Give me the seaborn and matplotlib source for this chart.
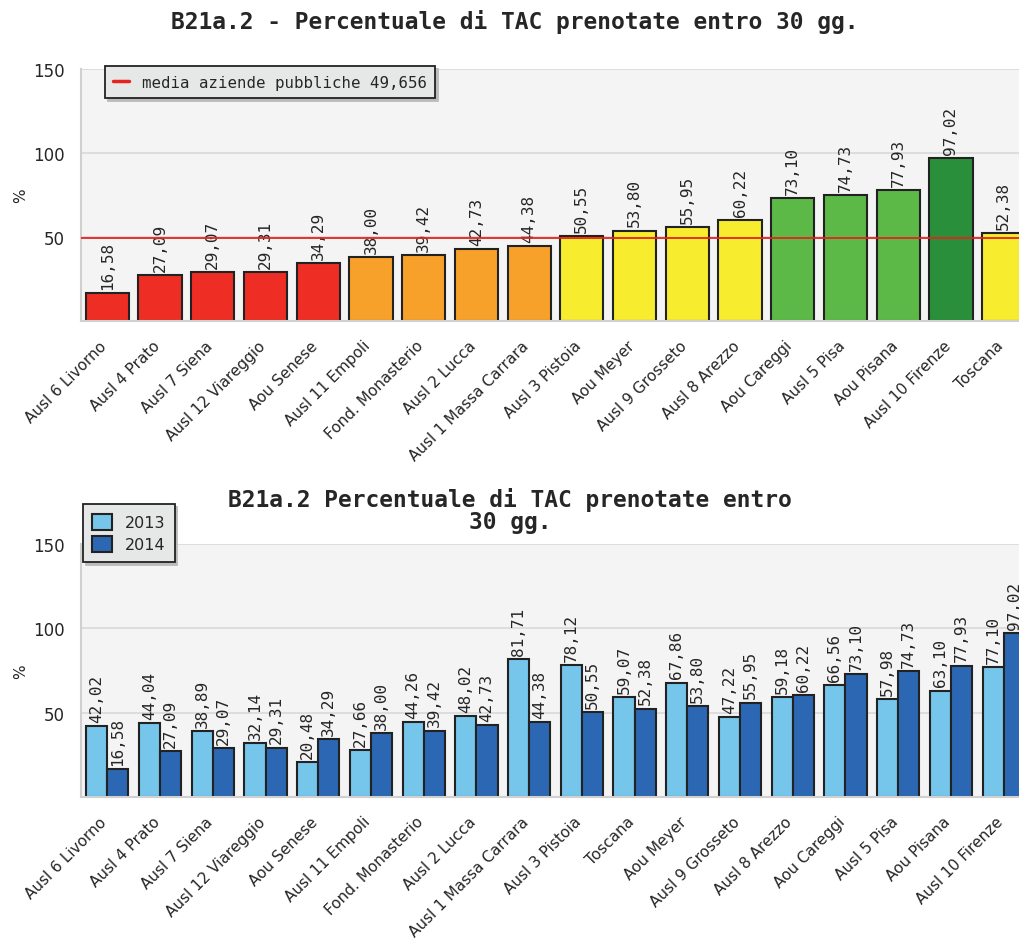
import matplotlib
matplotlib.use("Agg")
import matplotlib.pyplot as plt
import matplotlib.transforms as mtrans
import seaborn as sns
import pandas as pd
from matplotlib.lines import Line2D

# --- data ---
top_labels = ["Ausl 6 Livorno", "Ausl 4 Prato", "Ausl 7 Siena", "Ausl 12 Viareggio",
              "Aou Senese", "Ausl 11 Empoli", "Fond. Monasterio", "Ausl 2 Lucca",
              "Ausl 1 Massa Carrara", "Ausl 3 Pistoia", "Aou Meyer", "Ausl 9 Grosseto",
              "Ausl 8 Arezzo", "Aou Careggi", "Ausl 5 Pisa", "Aou Pisana",
              "Ausl 10 Firenze", "Toscana"]
top_values = [16.58, 27.09, 29.07, 29.31, 34.29, 38.00, 39.42, 42.73, 44.38,
              50.55, 53.80, 55.95, 60.22, 73.10, 74.73, 77.93, 97.02, 52.38]
top_band = ["red", "red", "red", "red", "red", "orange", "orange", "orange", "orange",
            "yellow", "yellow", "yellow", "yellow", "green", "green", "green",
            "darkgreen", "yellow"]
media_pubbliche = 49.656

bot_labels = ["Ausl 6 Livorno", "Ausl 4 Prato", "Ausl 7 Siena", "Ausl 12 Viareggio",
              "Aou Senese", "Ausl 11 Empoli", "Fond. Monasterio", "Ausl 2 Lucca",
              "Ausl 1 Massa Carrara", "Ausl 3 Pistoia", "Toscana", "Aou Meyer",
              "Ausl 9 Grosseto", "Ausl 8 Arezzo", "Aou Careggi", "Ausl 5 Pisa",
              "Aou Pisana", "Ausl 10 Firenze"]
vals_2013 = [42.02, 44.04, 38.89, 32.14, 20.48, 27.66, 44.26, 48.02, 81.71,
             78.12, 59.07, 67.86, 47.22, 59.18, 66.56, 57.98, 63.10, 77.10]
vals_2014 = [16.58, 27.09, 29.07, 29.31, 34.29, 38.00, 39.42, 42.73, 44.38,
             50.55, 52.38, 53.80, 55.95, 60.22, 73.10, 74.73, 77.93, 97.02]
years = ["2013", "2014"]

band_colors = {"red": "#ee2e24", "orange": "#f8a12a", "yellow": "#f7ec2d",
               "green": "#5cb947", "darkgreen": "#2a8f3b"}
year_colors = {"2013": "#76c6ec", "2014": "#2b67b2"}

sns.set_style("white")
mono = "DejaVu Sans Mono"


def fmt(v):
    return f"{v:.2f}".replace(".", ",")


def style_axes(ax, n):
    ax.set_facecolor("#f4f4f4")
    ax.set_ylim(0, 150)
    ax.set_xlim(-0.5, n - 0.5)
    ax.set_yticks([50, 100, 150])
    ax.yaxis.grid(True, color="#d9d9d9", linewidth=1.2)
    ax.set_axisbelow(True)
    for s in ["top", "right"]:
        ax.spines[s].set_visible(False)
    for s in ["left", "bottom"]:
        ax.spines[s].set_color("#d0d0d0")
        ax.spines[s].set_linewidth(1.5)
    ax.tick_params(axis="y", length=0, labelsize=12, pad=12)
    ax.tick_params(axis="x", which="major", length=0, pad=12)
    ax.set_xticks([i + 0.5 for i in range(n)], minor=True)
    ax.tick_params(axis="x", which="minor", direction="in", length=4,
                   width=1.2, color="#333333")
    ax.set_xlabel("")
    ax.set_ylabel("%", fontsize=11)
    ax.yaxis.set_label_coords(-0.056, 0.5)
    shift = mtrans.ScaledTranslation(-0.08, 0, fig.dpi_scale_trans)
    for lbl in ax.get_xticklabels():
        lbl.set_rotation(45)
        lbl.set_ha("right")
        lbl.set_rotation_mode("anchor")
        lbl.set_fontsize(11)
        lbl.set_transform(lbl.get_transform() + shift)


fig = plt.figure(figsize=(10.19, 9.45), dpi=100)

# --- top chart ---
ax1 = fig.add_axes([81 / 1019, 1 - 322 / 945, 949 / 1019, 252 / 945])
top_df = pd.DataFrame({"azienda": top_labels, "valore": top_values, "band": top_band})
sns.barplot(data=top_df, x="azienda", y="valore", hue="band", palette=band_colors,
            dodge=False, legend=False, width=0.82, edgecolor="#222222",
            linewidth=1.5, saturation=1, ax=ax1)
for cont in ax1.containers:
    ax1.bar_label(cont, labels=[fmt(b.get_height()) for b in cont], rotation=90,
                  padding=3, fontsize=11.5, family=mono)
ax1.axhline(media_pubbliche, color="#e5231f", linewidth=1.3, zorder=3)
style_axes(ax1, len(top_labels))
leg1 = ax1.legend(handles=[Line2D([0], [0], color="#e5231f", linewidth=2.5)],
                  labels=[f"media aziende pubbliche {media_pubbliche:.3f}".replace(".", ",")],
                  loc="upper left", bbox_to_anchor=(0.025, 1.012), borderaxespad=0,
                  frameon=True, fancybox=False, shadow={"color": "#bbbbbb", "alpha": 1},
                  handlelength=1.0, prop={"family": mono, "size": 11.3},
                  borderpad=0.55)
leg1.get_frame().set_facecolor("#e6e7e7")
leg1.get_frame().set_edgecolor("#222222")
leg1.get_frame().set_linewidth(1.3)
fig.text(515 / 1019, 1 - 22 / 945, "B21a.2 - Percentuale di TAC prenotate entro 30 gg.",
         ha="center", va="center", family=mono, fontsize=16.5, fontweight="bold")

# --- bottom chart ---
ax2 = fig.add_axes([81 / 1019, 1 - 798 / 945, 949 / 1019, 253 / 945])
bot_df = pd.DataFrame({
    "azienda": bot_labels * 2,
    "valore": vals_2013 + vals_2014,
    "anno": [years[0]] * len(bot_labels) + [years[1]] * len(bot_labels),
})
sns.barplot(data=bot_df, x="azienda", y="valore", hue="anno", palette=year_colors,
            width=0.8, edgecolor="#222222", linewidth=1.5, saturation=1, ax=ax2)
for cont in ax2.containers:
    ax2.bar_label(cont, labels=[fmt(b.get_height()) for b in cont], rotation=90,
                  padding=3, fontsize=11.5, family=mono)
style_axes(ax2, len(bot_labels))
leg2 = ax2.legend(loc="upper left", bbox_to_anchor=(0.002, 1.158), borderaxespad=0,
                  frameon=True, fancybox=False, shadow={"color": "#bbbbbb", "alpha": 1},
                  handlelength=1.2, handleheight=1.2, fontsize=11.5, borderpad=0.6,
                  labelspacing=0.35, title=None)
leg2.get_frame().set_facecolor("#e6e7e7")
leg2.get_frame().set_edgecolor("#222222")
leg2.get_frame().set_linewidth(1.3)
fig.text(510 / 1019, 1 - 511 / 945, "B21a.2 Percentuale di TAC prenotate entro\n30 gg.",
         ha="center", va="center", family=mono, fontsize=16.5, fontweight="bold",
         linespacing=0.95)

fig.savefig("out.png", dpi=100)
